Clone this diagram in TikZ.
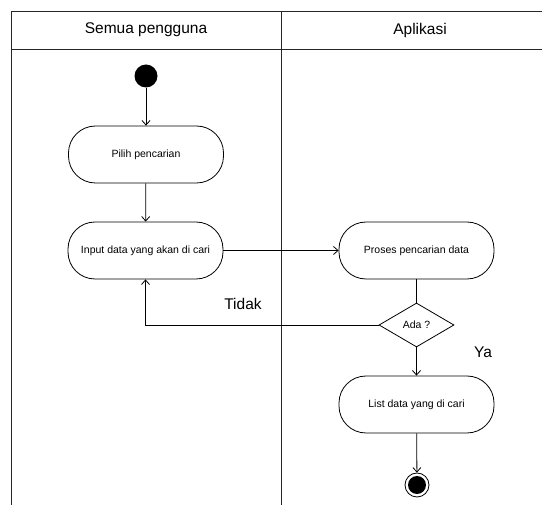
\documentclass[tikz,border=0pt]{standalone}
\usepackage{fontspec}
\setmainfont{Liberation Sans}
\usetikzlibrary{arrows.meta,shapes.geometric}
\begin{document}
\begin{tikzpicture}[x=1pt,y=-1pt,
  lane/.style={line width=0.9pt,draw=black!85},
  action/.style={draw,line width=0.8pt,rectangle,rounded corners=27pt,
    minimum width=155pt,minimum height=57pt,inner sep=0pt,
    font=\fontsize{10.5}{12}\selectfont},
  decision/.style={draw,line width=0.8pt,diamond,minimum width=75pt,
    minimum height=44pt,inner sep=0pt,font=\fontsize{10.5}{12}\selectfont},
  bigtext/.style={font=\fontsize{15.5}{18}\selectfont},
  flow/.style={line width=0.8pt,-{Straight Barb[length=4.5pt,width=8pt]}},
  plain/.style={line width=0.8pt}]
\useasboundingbox (0,0) rectangle (542,505);
% swimlane frame
\draw[lane] (542,11) -- (11,11) -- (11,505);
\draw[lane] (11,49) -- (542,49);
\draw[lane] (281,11) -- (281,505);
\node[bigtext] (h1) at (146,30) {Semua pengguna};
\node[bigtext] (h2) at (420,30) {Aplikasi};
% nodes
\node[circle,fill=black,minimum size=23pt,inner sep=0pt] (start) at (146,76) {};
\node[action] (pilih) at (146,154.5) {Pilih pencarian};
\node[action] (input) at (145.5,250.5) {Input data yang akan di cari};
\node[action] (proses) at (416.5,250.5) {Proses pencarian data};
\node[decision] (ada) at (416.5,325) {Ada ?};
\node[action] (list) at (416.5,404.5) {List data yang di cari};
\node[circle,draw,line width=0.8pt,minimum size=24pt,inner sep=0pt] (end) at (417,485) {};
\fill (end.center) circle (9pt);
% connectors
\draw[flow] (start) -- (pilih);
\draw[flow] (pilih) -- (input);
\draw[flow] (input) -- (proses);
\draw[plain] (proses) -- (ada);
\draw[flow] (ada.west) -| (input.south);
\draw[flow] (ada) -- (list);
\draw[flow] (list) -- (end);
% guard labels
\node[bigtext] (tidak) at (243,304) {Tidak};
\node[bigtext] (ya) at (483,352) {Ya};
\end{tikzpicture}
\end{document}
